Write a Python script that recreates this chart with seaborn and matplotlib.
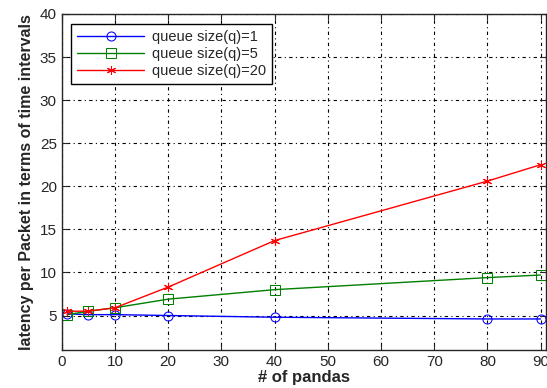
import pandas as pd
import matplotlib.pyplot as plt
import seaborn as sns

# values
pandas_n = [1, 5, 10, 20, 40, 80, 90]
q1 = [5.2, 5.1, 5.1, 5.0, 4.8, 4.6, 4.6]
q5 = [5.1, 5.5, 5.9, 6.9, 8.0, 9.4, 9.7]
q20 = [5.5, 5.5, 5.9, 8.3, 13.7, 20.6, 22.5]
labels = ['queue size(q)=1', 'queue size(q)=5', 'queue size(q)=20']
x_ticks = [0, 10, 20, 30, 40, 50, 60, 70, 80, 90]
y_ticks = [5, 10, 15, 20, 25, 30, 35, 40]
colors = ['#0000ff', '#008000', '#ff0000']
marks = ['o', 's', (6, 2, 0)]

df = pd.DataFrame({'pandas': pandas_n * 3,
                   'latency': q1 + q5 + q20,
                   'series': [labels[0]] * 7 + [labels[1]] * 7 + [labels[2]] * 7})

sns.set_style('ticks')
plt.rcParams['font.family'] = ['Liberation Sans', 'DejaVu Sans']

fig = plt.figure(figsize=(5.47, 3.88), dpi=100)
ax = fig.add_axes([0.113, 0.098, 0.885, 0.866])

sns.lineplot(data=df, x='pandas', y='latency', hue='series', style='series',
             palette=colors, markers=['o', 's', '*'], dashes=False,
             markersize=6.5, linewidth=1, ax=ax)

# hollow markers, matlab style asterisk
for line, c, m in zip(ax.lines, colors, marks):
    line.set_marker(m)
    line.set_markeredgecolor(c)
    line.set_markerfacecolor('none')

ax.set_xlim(0, 91)
ax.set_ylim(1, 40)
ax.set_xticks(x_ticks)
ax.set_yticks(y_ticks)
ax.tick_params(direction='in', top=True, right=True, labelsize=11, length=4)
ax.grid(True, color='black', linestyle=(0, (1, 3, 3, 3)), linewidth=0.8)
for s in ax.spines.values():
    s.set_linewidth(1)

ax.set_xlabel('# of pandas', fontsize=12, fontweight='bold', labelpad=1)
ax.set_ylabel('latency per Packet in terms of time intervals', fontsize=11.5,
              fontweight='bold', labelpad=4)

leg = ax.legend(loc='upper left', fontsize=10.5, fancybox=False, framealpha=1,
                edgecolor='black', handlelength=4.6, handletextpad=0.5,
                borderpad=0.4, labelspacing=0.2, borderaxespad=0,
                bbox_to_anchor=(0.02, 0.97))
leg.get_frame().set_linewidth(1)
for h, c, m in zip(leg.get_lines(), colors, marks):
    h.set_marker(m)
    h.set_markeredgecolor(c)
    h.set_markerfacecolor('none')

plt.savefig('out.png', dpi=100)
